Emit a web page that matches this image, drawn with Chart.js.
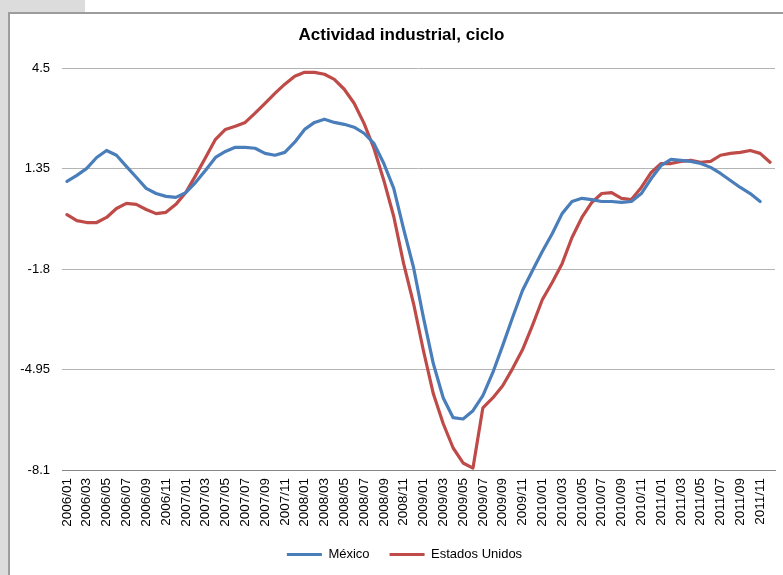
<!DOCTYPE html>
<html>
<head>
<meta charset="utf-8">
<script src="https://cdn.jsdelivr.net/npm/chart.js@4/dist/chart.umd.min.js"></script>
<style>
  html, body { margin: 0; padding: 0; background: #fff; }
  #wrap { position: relative; width: 783px; height: 575px; overflow: hidden; background: #fff; }
  #tl { position: absolute; left: 0; top: 0; width: 85px; height: 12px; background: #dcdcdc; }
  #ls { position: absolute; left: 0; top: 0; width: 8px; height: 575px; background: #dcdcdc; }
  #bt { position: absolute; left: 8px; top: 12px; width: 775px; height: 2px; background: #9c9c9c; }
  #bl { position: absolute; left: 8px; top: 12px; width: 2px; height: 563px; background: #9c9c9c; }
  canvas { position: absolute; left: 0; top: 0; }
</style>
</head>
<body>
<div id="wrap">
  <div id="tl"></div><div id="ls"></div><div id="bt"></div><div id="bl"></div>
  <canvas id="c" width="783" height="575"></canvas>
</div>
<script>
const categories = [
  "2006/01","2006/02","2006/03","2006/04","2006/05","2006/06","2006/07","2006/08","2006/09","2006/10","2006/11","2006/12",
  "2007/01","2007/02","2007/03","2007/04","2007/05","2007/06","2007/07","2007/08","2007/09","2007/10","2007/11","2007/12",
  "2008/01","2008/02","2008/03","2008/04","2008/05","2008/06","2008/07","2008/08","2008/09","2008/10","2008/11","2008/12",
  "2009/01","2009/02","2009/03","2009/04","2009/05","2009/06","2009/07","2009/08","2009/09","2009/10","2009/11","2009/12",
  "2010/01","2010/02","2010/03","2010/04","2010/05","2010/06","2010/07","2010/08","2010/09","2010/10","2010/11","2010/12",
  "2011/01","2011/02","2011/03","2011/04","2011/05","2011/06","2011/07","2011/08","2011/09","2011/10","2011/11","2011/12"
];
const mexico = [
  0.95,1.14,1.36,1.70,1.92,1.77,1.42,1.08,0.73,0.57,0.48,0.45,
  0.60,0.92,1.30,1.70,1.89,2.02,2.02,1.99,1.83,1.77,1.86,2.18,
  2.58,2.80,2.90,2.80,2.74,2.65,2.46,2.14,1.51,0.73,-0.55,-1.75,
  -3.32,-4.77,-5.84,-6.46,-6.50,-6.24,-5.77,-5.05,-4.20,-3.32,-2.47,-1.85,
  -1.25,-0.69,-0.06,0.32,0.42,0.38,0.32,0.32,0.29,0.32,0.57,1.04,
  1.45,1.64,1.61,1.58,1.51,1.39,1.20,0.98,0.76,0.57,0.32
];
const estadosUnidos = [
  -0.09,-0.28,-0.34,-0.34,-0.18,0.10,0.26,0.23,0.07,-0.06,-0.02,0.23,
  0.60,1.14,1.70,2.27,2.58,2.68,2.80,3.09,3.40,3.71,4.00,4.25,
  4.37,4.37,4.31,4.15,3.84,3.40,2.77,1.99,0.98,-0.15,-1.63,-2.88,
  -4.36,-5.71,-6.65,-7.41,-7.88,-8.04,-6.15,-5.84,-5.46,-4.92,-4.33,-3.57,
  -2.76,-2.22,-1.63,-0.81,-0.18,0.29,0.57,0.60,0.42,0.38,0.76,1.23,
  1.51,1.51,1.58,1.61,1.55,1.58,1.77,1.83,1.86,1.92,1.83,1.55
];
const yTicks = [-8.1, -4.95, -1.8, 1.35, 4.5];

const BLUE = "#4A7EBB", RED = "#BE4B48";
const FONT = "'Liberation Sans', Arial, sans-serif";

// shift title and legend so they are centred like the original (Excel centres them on the chart box)
const shiftBoxes = {
  id: "shiftBoxes",
  afterLayout(chart) {
    if (chart.titleBlock) { chart.titleBlock.left = 28; }
    if (chart.legend) { chart.legend.left = 34; }
  }
};

new Chart(document.getElementById("c"), {
  type: "line",
  data: {
    labels: categories,
    datasets: [
      { label: "México", data: mexico, borderColor: BLUE, backgroundColor: BLUE, borderWidth: 3.2, pointRadius: 0, tension: 0, borderJoinStyle: "round", borderCapStyle: "round" },
      { label: "Estados Unidos", data: estadosUnidos, borderColor: RED, backgroundColor: RED, borderWidth: 3.2, pointRadius: 0, tension: 0, borderJoinStyle: "round", borderCapStyle: "round" }
    ]
  },
  plugins: [shiftBoxes],
  options: {
    responsive: false,
    animation: false,
    layout: { padding: { left: 0, right: 8, top: 0, bottom: 4 } },
    plugins: {
      title: {
        display: true,
        text: "Actividad industrial, ciclo",
        color: "#000",
        font: { family: "'Liberation Sans Narrow', 'Liberation Sans', Arial, sans-serif", size: 17, weight: "bold", lineHeight: 1.2 },
        padding: { top: 25.5, bottom: 22.3 }
      },
      legend: {
        position: "bottom",
        labels: {
          boxWidth: 35, boxHeight: 3, padding: 20, color: "#000",
          font: { family: FONT, size: 13 },
          generateLabels: (chart) => Chart.defaults.plugins.legend.labels.generateLabels(chart).map(l => Object.assign(l, { lineWidth: 0 }))
        }
      },
      tooltip: { enabled: false }
    },
    scales: {
      x: {
        offset: true,
        grid: { display: false },
        border: { display: true, color: "#868686", width: 1 },
        ticks: {
          autoSkip: false, minRotation: 90, maxRotation: 90, color: "#000",
          font: { family: FONT, size: 13.5 }, padding: 0,
          callback: function (v, i) { return i % 2 === 0 ? categories[i] : ""; }
        },
        afterFit: (s) => { s.height = 58; s.paddingLeft = 0; s.paddingRight = 0; }
      },
      y: {
        min: -8.1, max: 4.5,
        afterBuildTicks: (s) => { s.ticks = yTicks.map(v => ({ value: v })); },
        grid: { color: "#b4b4b4", lineWidth: 1, drawTicks: false },
        border: { display: false },
        ticks: {
          color: "#000", padding: 12,
          font: { family: FONT, size: 13 },
          callback: (v) => String(v)
        },
        afterFit: (s) => { s.width = 62; }
      }
    }
  }
});
</script>
</body>
</html>
